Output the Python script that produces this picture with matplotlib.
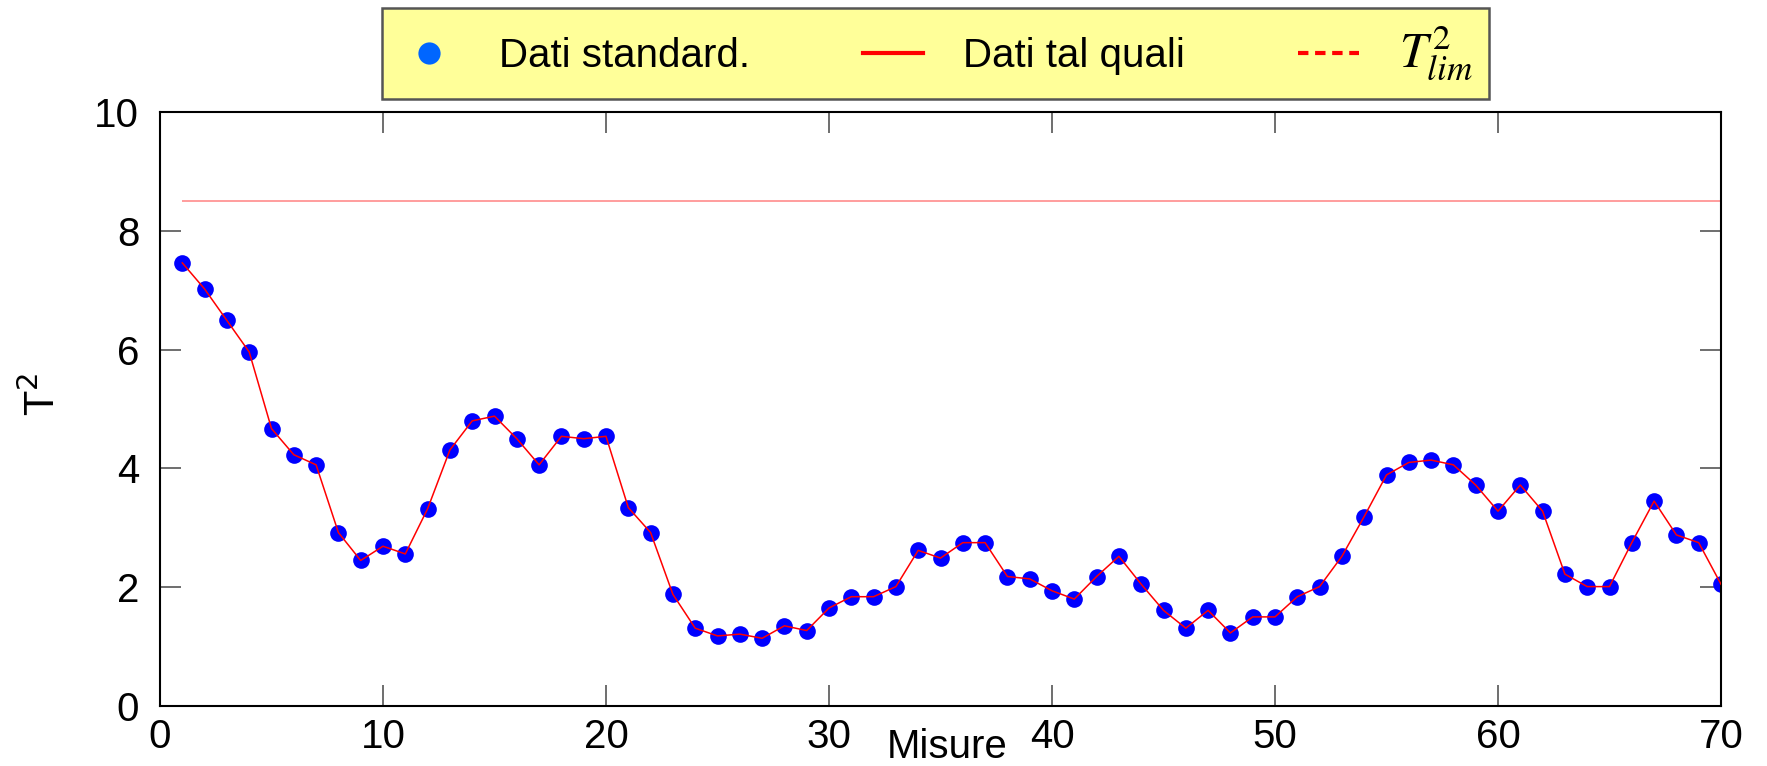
import numpy as np
import matplotlib.pyplot as plt
from matplotlib.lines import Line2D

plt.rcParams['font.family'] = ['Liberation Sans', 'DejaVu Sans']
plt.rcParams['mathtext.fontset'] = 'stix'

# misure 1..70
misure = np.arange(1, 71)

# T^2 dei dati standardizzati
t2_std = [7.46, 7.02, 6.49, 5.96, 4.67, 4.23, 4.06, 2.92, 2.45, 2.69,
          2.56, 3.32, 4.31, 4.80, 4.88, 4.50, 4.06, 4.54, 4.50, 4.54,
          3.34, 2.92, 1.88, 1.31, 1.18, 1.21, 1.14, 1.35, 1.27, 1.65,
          1.84, 1.84, 2.01, 2.62, 2.49, 2.75, 2.75, 2.18, 2.14, 1.94,
          1.80, 2.18, 2.52, 2.05, 1.61, 1.31, 1.61, 1.23, 1.50, 1.50,
          1.84, 2.01, 2.52, 3.19, 3.89, 4.10, 4.14, 4.06, 3.72, 3.28,
          3.72, 3.28, 2.22, 2.01, 2.01, 2.75, 3.45, 2.88, 2.75, 2.05]

# T^2 dei dati tal quali (coincidono con gli standardizzati)
t2_raw = list(t2_std)

t2_lim = 8.5

fig = plt.figure(figsize=(17.67, 7.66), dpi=100)
ax = fig.add_axes([160 / 1767, 1 - 706 / 766, (1721 - 160) / 1767, (706 - 112) / 766])

ax.plot(misure, t2_std, 'o', color='#0000FF', markersize=12, markeredgewidth=0, zorder=2)
ax.plot(misure, t2_raw, '-', color='red', lw=1.1, zorder=3)
ax.hlines(t2_lim, misure[0], misure[-1], color='red', lw=1.2, alpha=0.45, zorder=1)

ax.set_xlim(0, 70)
ax.set_ylim(0, 10)
ax.set_xticks(np.arange(0, 71, 10))
ax.set_yticks(np.arange(0, 11, 2))
ax.tick_params(direction='in', length=15, width=1.2, color='#555555',
               top=True, right=True, labelsize=29)
ax.tick_params(axis='x', pad=9)
ax.tick_params(axis='y', pad=15)
for s in ax.spines.values():
    s.set_linewidth(1.5)

ax.text(35.3, -0.69, 'Misure', ha='center', va='center', fontsize=29)
fig.text(43 / 1767, 1 - 394 / 766, 'T$^2$', rotation=90, ha='center', va='center',
         fontsize=30, math_fontfamily='dejavusans')

handles = [
    Line2D([], [], ls='none', marker='o', color='#0066FF', markersize=16, markeredgewidth=0),
    Line2D([], [], ls='-', color='red', lw=3),
    Line2D([], [], ls='--', color='red', lw=3, dashes=(2.5, 1.6)),
]
labels = ['Dati standard.', 'Dati tal quali', r'$T^2_{lim}$']
leg = fig.legend(handles, labels, loc='center', ncol=3,
                 bbox_to_anchor=(935.5 / 1767, 1 - 53.5 / 766),
                 fontsize=29, frameon=True, fancybox=False, framealpha=1,
                 facecolor='#FFFF99', edgecolor='#555555',
                 handlelength=1.5, handletextpad=1.0, columnspacing=2.8,
                 borderpad=0.4, borderaxespad=0)
leg.get_frame().set_linewidth(1.8)
leg.get_texts()[2].set_fontsize(36)

fig.savefig('out.png', dpi=100)
